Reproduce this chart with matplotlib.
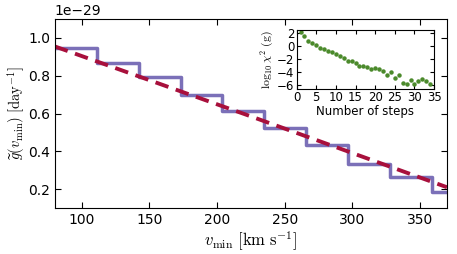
import numpy as np
import matplotlib
matplotlib.use("Agg")
import matplotlib.pyplot as plt

plt.rcParams["mathtext.fontset"] = "cm"
plt.rcParams["xtick.direction"] = "in"
plt.rcParams["ytick.direction"] = "in"
plt.rcParams["xtick.top"] = True
plt.rcParams["ytick.right"] = True

# Step function (binned g-tilde), units of 1e-29 day^-1
step_edges = [80, 111, 142, 173, 204, 235, 266, 297, 328, 359, 370]
step_values = [0.945, 0.868, 0.795, 0.700, 0.615, 0.525, 0.432, 0.334, 0.266, 0.186]

# Smooth (dashed) curve
curve_v = [80, 225, 370]
curve_g = [0.955, 0.585, 0.21]

# Inset: log10 chi^2 vs number of steps
n_steps = list(range(1, 35))
log_chi2 = [2.15, 1.55, 0.8, 0.45, 0.25, -0.2, -0.35, -0.7, -0.95, -1.15,
            -1.5, -1.75, -2.2, -2.25, -2.55, -3.0, -2.95, -3.25, -3.55, -3.4,
            -3.5, -3.75, -4.45, -3.95, -4.9, -4.45, -5.65, -5.75, -5.1, -5.85,
            -5.3, -5.0, -5.4, -5.75]

scale = 1e-29

fig = plt.figure(figsize=(4.57, 2.54), dpi=100)
ax = fig.add_axes([0.120, 0.181, 0.858, 0.744])

ax.step(step_edges, np.array(step_values + [step_values[-1]]) * scale, where="post",
        color="#7b70b8", lw=2.5)
ax.plot(curve_v, np.array(curve_g) * scale, color="#a8103c", lw=2.8, dashes=(3.5, 2))

ax.set_xlim(80, 370)
ax.set_ylim(0.1 * scale, 1.1 * scale)
ax.set_xticks([100, 150, 200, 250, 300, 350])
ax.set_yticks(np.array([0.2, 0.4, 0.6, 0.8, 1.0]) * scale)
ax.tick_params(labelsize=10, length=4)
ax.yaxis.get_offset_text().set_fontsize(10)
ax.set_xlabel(r"$v_{\rm min}\ [{\rm km\ s^{-1}}]$", fontsize=12, labelpad=2)
ax.set_ylabel(r"$\widetilde{g}(v_{\rm min})\ [{\rm day}^{-1}]$", fontsize=10.5, labelpad=1)

ins = fig.add_axes([0.649, 0.651, 0.301, 0.231])
ins.plot(n_steps, log_chi2, "o", color="#4b8a2b", ms=2.2)
ins.set_xlim(0, 35)
ins.set_ylim(-6.5, 2.5)
ins.set_xticks([0, 5, 10, 15, 20, 25, 30, 35])
ins.set_yticks([2, 0, -2, -4, -6])
ins.tick_params(labelsize=8.5, length=3, pad=1.5)
ins.set_xlabel("Number of steps", fontsize=8.5, labelpad=1)
ins.set_ylabel(r"$\log_{10}\chi^2\ ({\rm g})$", fontsize=8.5, labelpad=1)

fig.savefig("out.png", dpi=100)
